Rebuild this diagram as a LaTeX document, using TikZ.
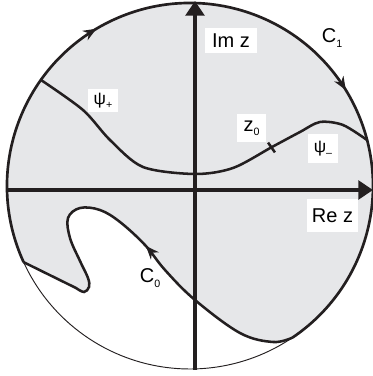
\documentclass[tikz,border=0pt]{standalone}
\usepackage{fontspec}
\setmainfont{Liberation Sans}
\usetikzlibrary{arrows.meta,decorations.markings}
\definecolor{discgray}{RGB}{230,231,233}
\definecolor{ink}{RGB}{35,31,32}
\newcommand{\lowsub}[1]{\raisebox{-0.4ex}{\fontsize{8}{8}\selectfont #1}}
\tikzset{
  axis/.style={ink,line width=3pt,-{Triangle[length=11pt,width=14pt]}},
  rim/.style={ink,line width=2pt},
  curve/.style={ink,line width=1.9pt},
  lbl/.style={fill=white,inner sep=1pt,font=\fontsize{15}{15}\selectfont},
  arrowat/.style={postaction={decorate,decoration={markings,
      mark=at position #1 with {\arrow{Stealth[length=10pt,width=8pt]}}}}}
}
\newcommand{\contourzero}{(c0start) -- (76,88)
  plot[smooth,tension=0.6] coordinates {(76,88) (84,84) (89,89) (88,98)
  (80,115) (70,138) (68,158) (80,168) (100,166) (120,154) (145,131)
  (165,106) (195,76) (240,43) (273,34) (c0end)}}
\begin{document}
\begin{tikzpicture}[x=0.75pt,y=0.75pt]
\useasboundingbox (0,0) rectangle (373,376);
\coordinate (c) at (190,190);
\coordinate (c0start) at ([shift={(c)}]204.6:183);
\coordinate (c0end) at ([shift={(c)}]-55.9:183);

\fill[discgray] (c) circle[radius=183];
\fill[white] \contourzero arc[start angle=-55.9,end angle=-155.4,radius=183] -- cycle;

\draw[ink,line width=0.7pt] (c0start) arc[start angle=204.6,end angle=304.1,radius=183];
\draw[rim,arrowat=0.322,arrowat=0.664] (c0start)
    arc[start angle=204.6,end angle=-55.9,radius=183];

\draw[axis] (8,186)--(373,186);
\draw[axis] (195,6)--(195,375);

\draw[curve] plot[smooth] coordinates {(41,296) (83,266) (110,236) (143,209)
    (195,202) (233,208) (272,229) (300,244) (320,254) (343,251) (367,236)};
\coordinate (z0) at (271.5,228.5);
\draw[curve] ([shift={(125:6)}]z0)--([shift={(-55:6)}]z0);

\draw[curve,arrowat=0.43] plot[smooth,tension=0.6] coordinates {(c0end) (273,34)
    (240,43) (195,76) (165,106) (145,131) (120,154) (100,166) (80,168)
    (68,158) (70,138) (80,115) (88,98) (89,89) (84,84) (76,88)} -- (c0start);

\node[lbl,minimum width=39pt,minimum height=19pt] (imz) at (231,335.5) {Im z};
\node[lbl,minimum width=38pt,minimum height=25pt] (rez) at (332.5,160.5) {Re z};
\node[lbl,fill=none] (c1) at (332,338) {C\lowsub{1}};
\node[lbl,fill=none] (c0) at (150,98) {C\lowsub{0}};
\node[lbl,minimum width=22.5pt,minimum height=17pt,font=\fontsize{13}{13}\selectfont]
    (psiplus) at (103,275.5) {ψ\lowsub{+}};
\node[lbl,minimum width=22.5pt,minimum height=22pt,font=\fontsize{13}{13}\selectfont]
    (psiminus) at (323,227.5) {ψ\lowsub{–}};
\node[lbl,minimum width=22pt,minimum height=21pt] (z0lbl) at (251.5,248) {z\lowsub{0}};
\end{tikzpicture}
\end{document}
